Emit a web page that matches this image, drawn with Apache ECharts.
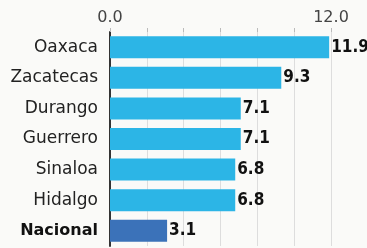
<!DOCTYPE html>
<html>
<head>
<meta charset="utf-8">
<script src="https://cdn.jsdelivr.net/npm/echarts@6/dist/echarts.min.js"></script>
<style>body{margin:0;background:#fafaf8;}</style>
</head>
<body>
<div id="main" style="width:367px;height:248px;"></div>
<script>
var estados = ['Oaxaca', 'Zacatecas', 'Durango', 'Guerrero', 'Sinaloa', 'Hidalgo', 'Nacional'];
var valores = [11.9, 9.3, 7.1, 7.1, 6.8, 6.8, 3.1];
var ticks = ['0.0', '12.0'];

var chart = echarts.init(document.getElementById('main'));
chart.setOption({
  backgroundColor: '#fafaf8',
  grid: { left: 110, right: 36, top: 32, bottom: 2 },
  xAxis: {
    type: 'value', position: 'top', min: 0, max: 12, interval: 2,
    axisLine: { show: false },
    axisTick: { show: true, length: 4, lineStyle: { color: '#bbb' } },
    splitLine: { show: true, lineStyle: { color: '#ddd', width: 1 } },
    axisLabel: {
      color: '#444', fontSize: 16, fontFamily: 'DejaVu Sans', margin: 6,
      formatter: function (v) {
        if (v === 0) return ticks[0];
        if (v === 12) return ticks[1];
        return '';
      }
    }
  },
  yAxis: {
    type: 'category', inverse: true, data: estados,
    axisLine: { show: true, lineStyle: { color: '#333', width: 2 } },
    axisTick: { show: false },
    axisLabel: {
      color: '#222', fontSize: 17, fontFamily: 'DejaVu Sans', margin: 12,
      formatter: function (v) { return v === 'Nacional' ? '{b|' + v + '}' : v; },
      rich: { b: { fontWeight: 'bold', fontSize: 16, fontFamily: 'DejaVu Sans', color: '#111' } }
    }
  },
  series: [{
    type: 'bar', barWidth: 22,
    data: valores.map(function (v, i) {
      return { value: v, itemStyle: { color: estados[i] === 'Nacional' ? '#3b72b9' : '#2cb5e6' } };
    }),
    label: {
      show: true, position: 'right', distance: 2,
      color: '#111', fontWeight: 'bold', fontSize: 17, fontFamily: 'DejaVu Sans Condensed',
      formatter: function (p) { return p.value.toFixed(1); }
    }
  }]
});
</script>
</body>
</html>
